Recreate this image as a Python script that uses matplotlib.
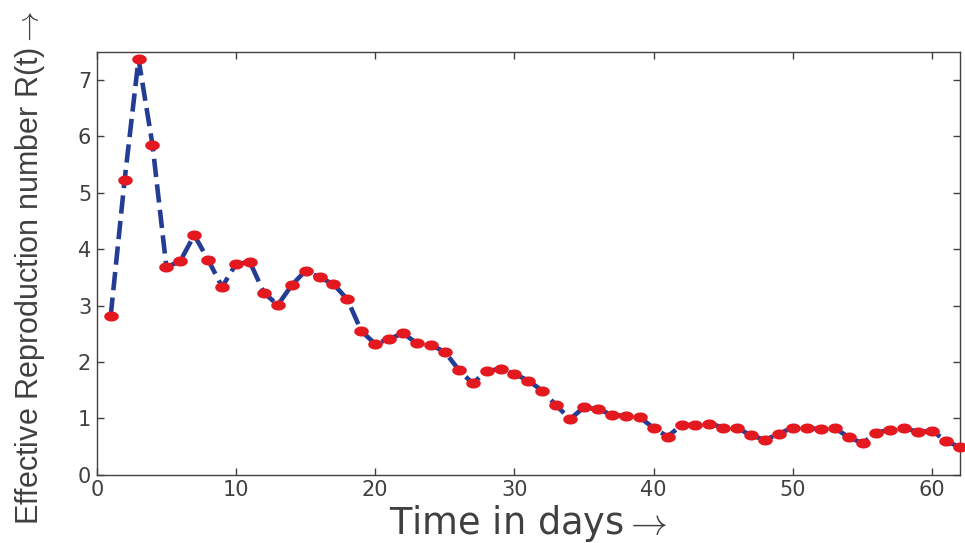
import numpy as np
import matplotlib as mpl
import matplotlib.pyplot as plt
from matplotlib.path import Path

# ----------------------------- Data -----------------------------
days = np.arange(1, 63)
r_t = [2.82, 5.23, 7.37, 5.85, 3.68, 3.79, 4.25, 3.81, 3.33, 3.74,
       3.77, 3.23, 3.01, 3.36, 3.62, 3.50, 3.38, 3.11, 2.55, 2.32,
       2.41, 2.51, 2.33, 2.30, 2.18, 1.86, 1.62, 1.84, 1.88, 1.79,
       1.67, 1.49, 1.23, 0.99, 1.20, 1.16, 1.07, 1.04, 1.02, 0.83,
       0.68, 0.88, 0.89, 0.91, 0.84, 0.83, 0.70, 0.62, 0.73, 0.84,
       0.83, 0.81, 0.83, 0.67, 0.56, 0.75, 0.80, 0.83, 0.76, 0.78,
       0.60, 0.49]

# --------------------------- Plot style --------------------------
mpl.rcParams.update({
    "font.family": ["DejaVu Sans"],
    "mathtext.fontset": "cm",
    "xtick.direction": "in", "ytick.direction": "in",
    "xtick.top": True, "ytick.right": True,
})
GREY = "#404040"

# flattened ellipse used as the point marker
t = np.linspace(0, 2 * np.pi, 60)
ellipse = Path(np.column_stack([1.45 * np.cos(t), np.sin(t)]), closed=True)

fig = plt.figure(figsize=(9.65, 5.43), dpi=100)
ax = fig.add_axes([0.1003, 0.1254, 0.8945, 0.7795])

ax.plot(days, r_t, color="#243d94", lw=3.3, dashes=(4.0, 1.6),
        dash_capstyle="butt", zorder=2)
ax.plot(days, r_t, ls="none", marker=ellipse, ms=10.5, mfc="#e3191f",
        mec="#e3191f", mew=0, zorder=3, clip_on=False)

ax.set_xlim(0, 62)
ax.set_ylim(0, 7.5)
ax.set_xticks(range(0, 61, 10))
ax.set_yticks(range(0, 8))
ax.tick_params(colors=GREY, labelsize=15, length=5, width=1.0, pad=4)
for s in ax.spines.values():
    s.set_color(GREY)
    s.set_linewidth(1.0)

ax.set_xlabel(r"Time in days$\rightarrow$", fontsize=26.5, color=GREY)
ax.xaxis.set_label_coords(0.5, -0.139, transform=ax.transAxes)
ax.xaxis.label.set_va("baseline")

ax.set_ylabel(r"Effective Reproduction number R(t)$\rightarrow$", fontsize=22,
              color=GREY, family=["Liberation Sans", "DejaVu Sans"])
ax.yaxis.set_label_coords(-0.058, 0.49, transform=ax.transAxes)

fig.savefig("out.png", dpi=100)
